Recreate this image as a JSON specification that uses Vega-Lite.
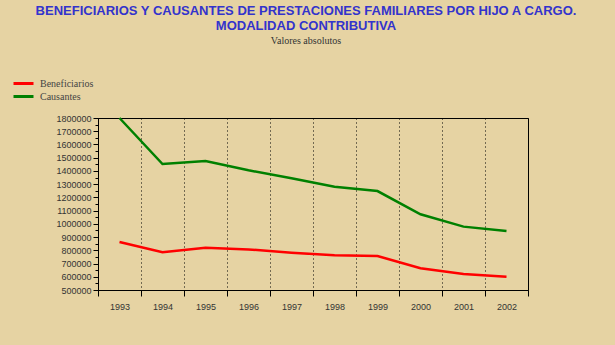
{
  "$schema": "https://vega.github.io/schema/vega-lite/v6.json",
  "width": 430,
  "height": 172,
  "autosize": {"type": "none"},
  "padding": {"left": 98, "top": 118, "right": 87, "bottom": 55},
  "background": "#e6d3a3",
  "config": {"view": {"stroke": "#000", "strokeWidth": 1}, "font": "Liberation Sans"},
  "title": {
    "text": ["BENEFICIARIOS Y CAUSANTES DE PRESTACIONES FAMILIARES POR HIJO A CARGO.", "MODALIDAD CONTRIBUTIVA"],
    "subtitle": "Valores absolutos",
    "anchor": "middle",
    "frame": "group",
    "dx": -7,
    "offset": 31,
    "font": "Liberation Sans",
    "fontSize": 13,
    "fontWeight": "bold",
    "color": "#3333cc",
    "lineHeight": 15,
    "subtitleFont": "Liberation Serif",
    "subtitleFontSize": 10,
    "subtitleColor": "#333",
    "subtitlePadding": 3
  },
  "data": {
    "values": [
      {"year": "1993", "serie": "Beneficiarios", "value": 863000},
      {"year": "1994", "serie": "Beneficiarios", "value": 785000},
      {"year": "1995", "serie": "Beneficiarios", "value": 820000},
      {"year": "1996", "serie": "Beneficiarios", "value": 807000},
      {"year": "1997", "serie": "Beneficiarios", "value": 782000},
      {"year": "1998", "serie": "Beneficiarios", "value": 762000},
      {"year": "1999", "serie": "Beneficiarios", "value": 757000},
      {"year": "2000", "serie": "Beneficiarios", "value": 665000},
      {"year": "2001", "serie": "Beneficiarios", "value": 621000},
      {"year": "2002", "serie": "Beneficiarios", "value": 601000},
      {"year": "1993", "serie": "Causantes", "value": 1800000},
      {"year": "1994", "serie": "Causantes", "value": 1452000},
      {"year": "1995", "serie": "Causantes", "value": 1475000},
      {"year": "1996", "serie": "Causantes", "value": 1405000},
      {"year": "1997", "serie": "Causantes", "value": 1344000},
      {"year": "1998", "serie": "Causantes", "value": 1281000},
      {"year": "1999", "serie": "Causantes", "value": 1248000},
      {"year": "2000", "serie": "Causantes", "value": 1072000},
      {"year": "2001", "serie": "Causantes", "value": 979000},
      {"year": "2002", "serie": "Causantes", "value": 946000}
    ]
  },
  "mark": {"type": "line", "strokeWidth": 2.5, "clip": false},
  "encoding": {
    "x": {
      "field": "year",
      "type": "ordinal",
      "scale": {"type": "band", "paddingInner": 0, "paddingOuter": 0},
      "axis": {
        "title": null,
        "labelAngle": 0,
        "tickBand": "extent",
        "grid": true,
        "gridDash": [1, 3],
        "gridColor": "#000",
        "gridWidth": 1,
        "domainColor": "#000",
        "tickColor": "#000",
        "tickSize": 6,
        "labelFont": "Liberation Sans",
        "labelFontSize": 9,
        "labelColor": "#333",
        "labelPadding": 6
      }
    },
    "y": {
      "field": "value",
      "type": "quantitative",
      "scale": {"domain": [500000, 1800000], "nice": false, "zero": false},
      "axis": {
        "title": null,
        "grid": false,
        "values": [500000, 550000, 600000, 650000, 700000, 750000, 800000, 850000, 900000, 950000, 1000000, 1050000, 1100000, 1150000, 1200000, 1250000, 1300000, 1350000, 1400000, 1450000, 1500000, 1550000, 1600000, 1650000, 1700000, 1750000, 1800000],
        "format": "d",
        "labelExpr": "datum.value % 100000 === 0 ? datum.label : ''",
        "tickSize": {"condition": {"test": "datum.value % 100000 === 0", "value": 5}, "value": 3},
        "tickColor": "#000",
        "domainColor": "#000",
        "labelFont": "Liberation Sans",
        "labelFontSize": 9,
        "labelColor": "#333",
        "labelPadding": 2
      }
    },
    "color": {
      "field": "serie",
      "type": "nominal",
      "scale": {"domain": ["Beneficiarios", "Causantes"], "range": ["#ff0000", "#008000"]},
      "legend": {
        "title": null,
        "orient": "none",
        "legendX": -86,
        "legendY": -41,
        "symbolType": "M-1,0H3",
        "symbolStrokeWidth": 3,
        "symbolSize": 100,
        "labelFont": "Liberation Serif",
        "labelFontSize": 10,
        "labelColor": "#444",
        "labelOffset": 15,
        "rowPadding": 0
      }
    }
  }
}
